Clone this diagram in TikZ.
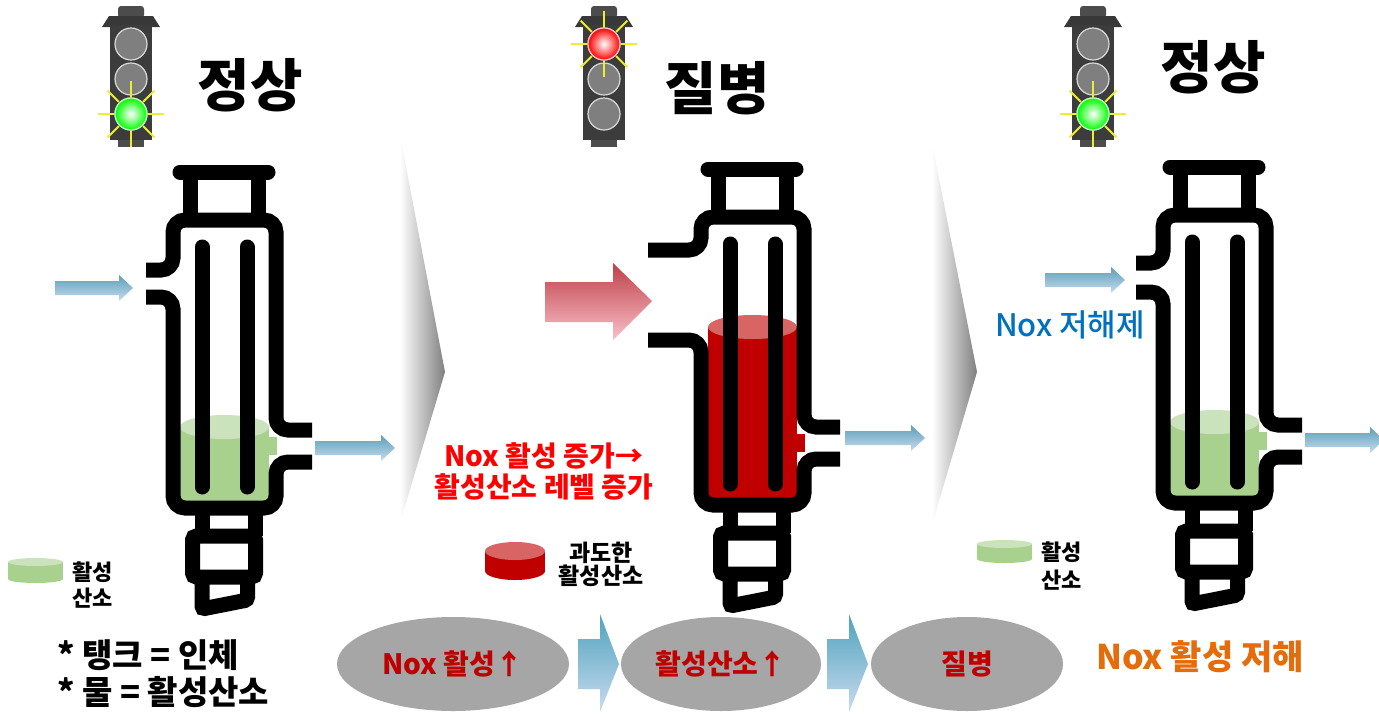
\documentclass[tikz,border=0pt]{standalone}
\usepackage{fontspec}
\setmainfont{Noto Sans CJK KR}
\newfontfamily\mediumkr{Noto Sans CJK KR Medium}
\usetikzlibrary{shapes.geometric}

\definecolor{housing}{HTML}{3C3C3C}
\definecolor{lampoff}{HTML}{7F7F7F}
\definecolor{liqgreen}{HTML}{A9D18E}
\definecolor{liqgreentop}{HTML}{CBE3BC}
\definecolor{liqred}{HTML}{C00000}
\definecolor{liqredtop}{HTML}{D96464}
\definecolor{pipetop}{HTML}{5A9FB6}
\definecolor{pipebot}{HTML}{C9DBEF}
\definecolor{flowtop}{HTML}{4FA3BD}
\definecolor{hotred}{HTML}{FF0000}
\definecolor{darkred}{HTML}{C00000}
\definecolor{noxblue}{HTML}{0070C0}
\definecolor{noxorange}{HTML}{E46C0A}
\definecolor{bubble}{HTML}{A6A6A6}
\definecolor{raycol}{HTML}{EEEE30}

\tikzset{
	wall/.style={line width=15pt, rounded corners=12pt},
	ray/.style={raycol, line width=2pt},
	title/.style={inner sep=0pt, font=\bfseries\fontsize{57}{60}\selectfont},
	keytext/.style={inner sep=0pt, align=left, anchor=west, font=\bfseries\fontsize{22}{26}\selectfont},
	flowbox/.style={ellipse, inner sep=0pt, fill=bubble, text=darkred, font=\bfseries\fontsize{28}{30}\selectfont},
}

% tank walls in local coordinates: left end of the inlet, upper and lower inlet line
\def\tankwalls(#1:#2:#3){%
	\draw[wall] (#1,#2) -- (-51,#2) -- (-51,220) -- (52,220) -- (52,430) -- (88,430);
	\draw[wall] (88,462) -- (52,462) -- (52,508) -- (-51,508) -- (-51,#3) -- (#1,#3);
	\draw[wall, line cap=round] (-44,172) -- (44,172);
	\draw[wall] (-34,172) -- (-34,220) (34,172) -- (34,220);
	\draw[wall, line cap=round] (-22,247) -- (-22,487) (23,247) -- (23,487);
	\draw[wall] (-22,508) -- (-22,536) (31,508) -- (31,536);
	\draw[wall, rounded corners=4pt] (-31.5,536) rectangle (31.5,577);
	\draw[wall, rounded corners=3pt] (-22,577) -- (-22,609) -- (23.5,600) -- (23.5,577);
}
% liquid inside a tank: top level, body colour, surface colour
\def\liquid(#1)[#2][#3]{%
	\fill[#2] (-44,#1) rectangle (45,501);
	\fill[#2] (40,437) rectangle (53,455);
	\fill[#3] (0.5,#1) ellipse [x radius=44.5pt, y radius=12pt];
}
% traffic light: centre x, lit lamp y, lamp colour
\def\signal(#1:#2:#3){%
	\fill[black!70, rounded corners=3pt] (#1-13,18) rectangle (#1+13,6);
	\fill[black!70] (#1-13,135) rectangle (#1+13,147);
	\fill[black!78] (#1-29,27) -- (#1-22,16) -- (#1+22,16) -- (#1+29,27) -- cycle;
	\fill[housing] (#1-21,25) rectangle (#1+21,140);
	\foreach \y in {44,79,114}
		\filldraw[fill=lampoff, draw=black!15, line width=1.2pt] (#1,\y) circle [radius=16pt];
	\foreach \a in {0,45,...,315}
		\draw[ray] (#1,#2) ++(\a:17) -- ++(\a:16);
	\shadedraw[inner color=white, outer color=#3, draw=white!75!#3, line width=1.2pt] (#1,#2) circle [radius=16pt];
}
% small blue arrow: tail x, tip x, height
\def\pipearrow(#1:#2:#3){%
	\shade[top color=pipetop, bottom color=pipebot] (#1,#3-7) -- (#2-14,#3-7) -- (#2-14,#3-13) -- (#2,#3) -- (#2-14,#3+13) -- (#2-14,#3+7) -- (#1,#3+7) -- cycle;
}
% puck of liquid: centre x, top y, body height, radii, colours
\def\puck(#1,#2)(#3:#4:#5)#6#7{%
	\fill[#6] (#1-#4,#2) rectangle (#1+#4,#2+#3);
	\fill[#6] (#1,#2+#3) ellipse [x radius=#4pt, y radius=#5pt];
	\fill[#7] (#1,#2) ellipse [x radius=#4pt, y radius=#5pt];
}

\begin{document}
\begin{tikzpicture}[x=1pt, y=-1pt]
	%%%%% START %%%%%
	\useasboundingbox (0,0) rectangle (1379,713);
	\fill[white] (0,0) rectangle (1379,713);
	
	% grey wedges between the stages
	\shade[left color=white, right color=black!50] (400,135) -- (445,372) -- (400,523) -- cycle;
	\shade[left color=white, right color=black!50] (932,143) -- (977,372) -- (932,525) -- cycle;
	
	% stage 1
	\signal(131:114:green)
	\node[title] (normal) at (250,85) {정상};
	\begin{scope}[shift={(224,0)}]
		\liquid(427)[liqgreen][liqgreentop]
		\tankwalls(-78:270:297)
	\end{scope}
	\pipearrow(55:133:288)
	\pipearrow(315:395:448)
	\puck(35.5,562)(17:27.5:4){liqgreen}{liqgreentop}
	\node[keytext] (roskey) at (72,585) {활성\\산소};
	\node[keytext, font=\bfseries\fontsize{33}{37}\selectfont] (legend) at (57,674) {* 탱크 = 인체\\* 물 = 활성산소};
	
	% stage 2
	\signal(604:44:red)
	\node[title] (disease) at (717,88) {질병};
	\begin{scope}[shift={(752,-3)}]
		\liquid(330)[liqred][liqredtop]
		\tankwalls(-104:253:343)
	\end{scope}
	\shade[top color={rgb,255:red,192;green,64;blue,72}, bottom color={rgb,255:red,248;green,192;blue,200}]
		(545,282) -- (613,282) -- (613,263) -- (652,301) -- (613,340) -- (613,322) -- (545,322) -- cycle;
	\pipearrow(845:925:438)
	\node[inner sep=0pt, align=center, text=hotred, font=\bfseries\fontsize{28}{31}\selectfont] (rise) at (544,471) {Nox 활성 증가→\\활성산소 레벨 증가};
	\puck(515,551)(20:30:9){liqred}{liqredtop}
	\node[inner sep=0pt, align=center, font=\bfseries\fontsize{23}{23}\selectfont] (excess) at (601,564) {과도한\\활성산소};
	
	% stage 3
	\signal(1093:114:green)
	\node[title] (cured) at (1213,67) {정상};
	\begin{scope}[shift={(1214,-5)}]
		\liquid(427)[liqgreen][liqgreentop]
		\tankwalls(-78:268:297)
	\end{scope}
	\pipearrow(1045:1125:280)
	\pipearrow(1305:1384:440)
	\node[inner sep=0pt, text=noxblue, font=\mediumkr\fontsize{31}{34}\selectfont] (blocker) at (1070,325) {Nox 저해제};
	\puck(1004.5,544)(15:27.5:4){liqgreen}{liqgreentop}
	\node[keytext, font=\bfseries\fontsize{22}{28}\selectfont] (roskey3) at (1041,566) {활성\\산소};
	\node[inner sep=0pt, text=noxorange, font=\bfseries\fontsize{34}{37}\selectfont] (block) at (1200,657) {Nox 활성 저해};
	
	% cause chain along the bottom
	\node[flowbox, minimum width=232pt, minimum height=94pt] (noxup) at (453,664) {Nox 활성↑};
	\node[flowbox, minimum width=200pt, minimum height=94pt] (rosup) at (721,664) {활성산소↑};
	\node[flowbox, minimum width=192pt, minimum height=94pt] (ill) at (967,664) {질병};
	\foreach \x in {578,827}
		\shade[top color=flowtop, bottom color=pipebot] (\x,639) -- (\x+22,639) -- (\x+22,614) -- (\x+41,664) -- (\x+22,712) -- (\x+22,689) -- (\x,689) -- cycle;
	%%%%% END %%%%%
\end{tikzpicture}
\end{document}
